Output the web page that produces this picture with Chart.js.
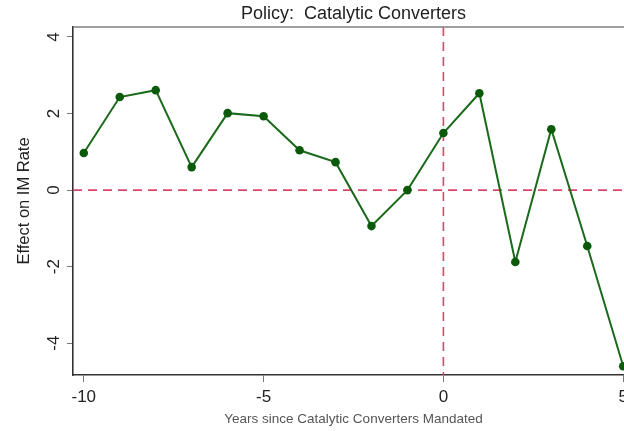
<!DOCTYPE html>
<html>
<head>
<meta charset="utf-8">
<script src="https://cdn.jsdelivr.net/npm/chart.js@4"></script>
<style>
  html, body { margin: 0; padding: 0; background: #fff; overflow: hidden; }
  /* the plot runs a little past the right edge of the window, like the reference crop */
  #wrap { width: 660px; height: 431px; position: relative; }
</style>
</head>
<body>
<div id="wrap"><canvas id="policyChart"></canvas></div>
<script>
// ---- data ----
const years  = [-10, -9, -8, -7, -6, -5, -4, -3, -2, -1, 0, 1, 2, 3, 4, 5];
const effect = [0.97, 2.43, 2.61, 0.60, 2.01, 1.93, 1.04, 0.73, -0.94, 0.00, 1.49, 2.53, -1.88, 1.59, -1.46, -4.60];

const xTicks = [-10, -5, 0, 5];
const yTicks = [-4, -2, 0, 2, 4];

const refX = 0;   // vertical dashed line (year mandated)
const refY = 0;   // horizontal dashed line (no effect)

const titleText  = "Policy:  Catalytic Converters";
const xTitleText = "Years since Catalytic Converters Mandated";
const yTitleText = "Effect on IM Rate";

// ---- styling ----
const lineGreen  = "#1b6a1b";
const pointGreen = "#0b5a0b";
const refColor   = "#dc4668";
const axisColor  = "#333333";
const tickColor  = "#777777";
const fontFamily = "'Liberation Sans', Arial, Helvetica, sans-serif";

// dashed reference lines + top frame line, drawn through the scales
const refLines = {
  id: "refLines",
  beforeDatasetsDraw(chart) {
    const { ctx, chartArea, scales } = chart;
    const px = scales.x.getPixelForValue(refX);
    const py = scales.y.getPixelForValue(refY);
    ctx.save();
    ctx.strokeStyle = refColor;
    ctx.lineWidth = 1.6;
    ctx.setLineDash([9, 6]);
    ctx.beginPath();
    ctx.moveTo(chartArea.left, py);
    ctx.lineTo(chartArea.right, py);
    ctx.stroke();
    ctx.beginPath();
    ctx.moveTo(px, chartArea.top);
    ctx.lineTo(px, chartArea.bottom);
    ctx.stroke();
    ctx.restore();
  },
  afterDraw(chart) {
    const { ctx, chartArea } = chart;
    ctx.save();
    ctx.strokeStyle = "#808080";
    ctx.lineWidth = 1.5;
    ctx.beginPath();
    ctx.moveTo(chartArea.left, chartArea.top);
    ctx.lineTo(chartArea.right, chartArea.top);
    ctx.lineTo(chartArea.right, chartArea.bottom);
    ctx.stroke();
    ctx.restore();
  }
};

new Chart(document.getElementById("policyChart"), {
  type: "line",
  data: {
    labels: years,
    datasets: [{
      data: years.map((x, i) => ({ x: x, y: effect[i] })),
      borderColor: lineGreen,
      borderWidth: 2,
      tension: 0,
      pointRadius: 4.3,
      pointHoverRadius: 4.3,
      pointBackgroundColor: pointGreen,
      pointBorderWidth: 0,
      clip: false
    }]
  },
  options: {
    responsive: true,
    maintainAspectRatio: false,
    animation: false,
    devicePixelRatio: 1,
    layout: { padding: { left: 0, right: 26, top: 0, bottom: 0 } },
    plugins: {
      legend: { display: false },
      tooltip: { enabled: false },
      title: {
        display: true,
        text: titleText,
        fullSize: false,
        color: "#222",
        font: { family: fontFamily, size: 18, weight: "normal" },
        padding: { top: 3, bottom: 2.4 }
      }
    },
    scales: {
      x: {
        type: "linear",
        min: -10.3,
        max: 5.3,
        afterBuildTicks: s => { s.ticks = xTicks.map(v => ({ value: v })); },
        afterFit: s => { s.height = 56; },
        ticks: {
          color: "#222",
          padding: 5,
          maxRotation: 0,
          font: { family: fontFamily, size: 17 }
        },
        grid: { drawOnChartArea: false, drawTicks: true, tickLength: 7, color: tickColor },
        border: { display: true, color: axisColor, width: 1.6 },
        title: {
          display: true,
          text: xTitleText,
          color: "#555",
          font: { family: fontFamily, size: 13.5 },
          padding: { top: 0, bottom: 3.4 }
        }
      },
      y: {
        type: "linear",
        min: -4.83,
        max: 4.26,
        afterBuildTicks: s => { s.ticks = yTicks.map(v => ({ value: v })); },
        afterFit: s => { s.width = 73; },
        ticks: {
          color: "#222",
          padding: 5,
          minRotation: 90,
          maxRotation: 90,
          crossAlign: "center",
          font: { family: fontFamily, size: 17 }
        },
        grid: { drawOnChartArea: false, drawTicks: true, tickLength: 6, color: tickColor },
        border: { display: true, color: axisColor, width: 1.6 },
        title: {
          display: true,
          text: yTitleText,
          color: "#222",
          font: { family: fontFamily, size: 16.5 },
          padding: { top: 14.6, bottom: 0 }
        }
      }
    }
  },
  plugins: [refLines]
});
</script>
</body>
</html>
